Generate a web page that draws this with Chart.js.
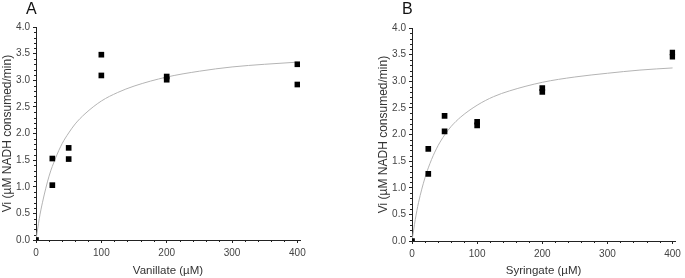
<!DOCTYPE html>
<html>
<head>
<meta charset="utf-8">
<script src="https://cdn.jsdelivr.net/npm/chart.js@4.4.0/dist/chart.umd.min.js"></script>
<style>
  body { margin: 0; background: #fff; width: 685px; height: 278px; position: relative; overflow: hidden; }
  .panel { position: absolute; top: 0; height: 278px; }
  .tag { position: absolute; top: 0; font: 16px "Liberation Sans", Arial, sans-serif; color: #111; }
</style>
</head>
<body>
<div class="panel" style="left:0;width:340px"><canvas id="chartA"></canvas></div>
<div class="panel" style="left:376px;width:309px"><canvas id="chartB"></canvas></div>
<div class="tag" style="left:26px">A</div>
<div class="tag" style="left:402px">B</div>
<script>
// substrate concentrations (µM), duplicates per point
const concentrations = [0, 25, 25, 50, 50, 100, 100, 200, 200, 400, 400];
const vanillateRates = [0, 1.53, 1.03, 1.73, 1.52, 3.48, 3.09, 3.07, 3.01, 3.30, 2.92];
const syringateRates = [0, 1.73, 1.26, 2.35, 2.06, 2.24, 2.17, 2.87, 2.80, 3.54, 3.46];

// fitted curve
const fitX = [0, 5, 10, 20, 30, 40, 50, 60, 75, 100, 125, 150, 200, 250, 300, 350, 400];
const vanillateFit = [0, 0.40, 0.71, 1.20, 1.54, 1.81, 2.01, 2.18, 2.37, 2.61, 2.77, 2.89, 3.06, 3.17, 3.25, 3.30, 3.34];
const syringateFit = [0, 0.40, 0.72, 1.19, 1.53, 1.79, 1.99, 2.15, 2.33, 2.55, 2.71, 2.82, 2.98, 3.08, 3.15, 3.21, 3.25];

const xTicks = [0, 100, 200, 300, 400];
const yTicks = [0, 0.5, 1.0, 1.5, 2.0, 2.5, 3.0, 3.5, 4.0];
const xMinorTicks = [20, 40, 60, 80, 120, 140, 160, 180, 220, 240, 260, 280, 320, 340, 360, 380];
const yMinorTicks = [0.1, 0.2, 0.3, 0.4, 0.6, 0.7, 0.8, 0.9, 1.1, 1.2, 1.3, 1.4, 1.6, 1.7, 1.8, 1.9,
  2.1, 2.2, 2.3, 2.4, 2.6, 2.7, 2.8, 2.9, 3.1, 3.2, 3.3, 3.4, 3.6, 3.7, 3.8, 3.9];

const FONT = '"Liberation Sans", Arial, sans-serif';

// small minor tick marks outside the axes
const minorTicks = {
  id: "minorTicks",
  afterDraw(chart) {
    const { ctx, chartArea, scales } = chart;
    ctx.save();
    ctx.strokeStyle = "#222";
    ctx.lineWidth = 1;
    ctx.beginPath();
    xMinorTicks.forEach((v) => {
      const px = Math.round(scales.x.getPixelForValue(v)) + 0.5;
      ctx.moveTo(px, chartArea.bottom);
      ctx.lineTo(px, chartArea.bottom + 2);
    });
    yMinorTicks.forEach((v) => {
      const py = Math.round(scales.y.getPixelForValue(v)) + 0.5;
      ctx.moveTo(chartArea.left, py);
      ctx.lineTo(chartArea.left - 2, py);
    });
    ctx.stroke();
    ctx.restore();
  },
};

function makeChart(id, rates, fit, xTitle, pad) {
  const points = concentrations.map((c, i) => ({ x: c, y: rates[i] }));
  const curve = fitX.map((c, i) => ({ x: c, y: fit[i] }));
  return new Chart(document.getElementById(id), {
    type: "scatter",
    data: {
      datasets: [
        {
          data: curve,
          showLine: true,
          borderColor: "#b4b4b4",
          borderWidth: 1,
          pointRadius: 0,
          cubicInterpolationMode: "monotone",
          order: 2,
        },
        {
          data: points,
          pointStyle: "rect",
          pointRadius: 4,
          backgroundColor: "#000",
          borderColor: "#000",
          borderWidth: 0,
          order: 1,
        },
      ],
    },
    options: {
      responsive: true,
      maintainAspectRatio: false,
      animation: false,
      layout: { padding: pad },
      plugins: { legend: { display: false }, tooltip: { enabled: false } },
      scales: {
        x: {
          type: "linear",
          min: 0,
          max: 404,
          afterBuildTicks: (s) => { s.ticks = xTicks.map((v) => ({ value: v })); },
          afterFit: (s) => { s.height = pad.xh; },
          border: { color: "#222", width: 1 },
          grid: { drawOnChartArea: false, drawTicks: true, tickLength: 3, tickColor: "#222" },
          ticks: { color: "#444", font: { family: FONT, size: 10 }, padding: 4, maxRotation: 0 },
          title: { display: true, text: xTitle, color: "#333", font: { family: FONT, size: 11.5 }, padding: { top: 2, bottom: 0 } },
        },
        y: {
          type: "linear",
          min: 0,
          max: 4,
          afterBuildTicks: (s) => { s.ticks = yTicks.map((v) => ({ value: v })); },
          afterFit: (s) => { s.width = 36; },
          border: { color: "#222", width: 1 },
          grid: { drawOnChartArea: false, drawTicks: true, tickLength: 3, tickColor: "#222" },
          ticks: { color: "#444", font: { family: FONT, size: 10 }, padding: 3, callback: (v) => v.toFixed(1) },
          title: { display: true, text: "Vi (µM NADH consumed/min)", color: "#333", font: { family: FONT, size: 12 }, padding: 0 },
        },
      },
    },
    plugins: [minorTicks],
  });
}

makeChart("chartA", vanillateRates, vanillateFit, "Vanillate (µM)", { top: 27, right: 40, bottom: 0, left: 0, xh: 38 });
makeChart("chartB", syringateRates, syringateFit, "Syringate (µM)", { top: 28, right: 9, bottom: 0, left: 0, xh: 37 });
</script>
</body>
</html>
